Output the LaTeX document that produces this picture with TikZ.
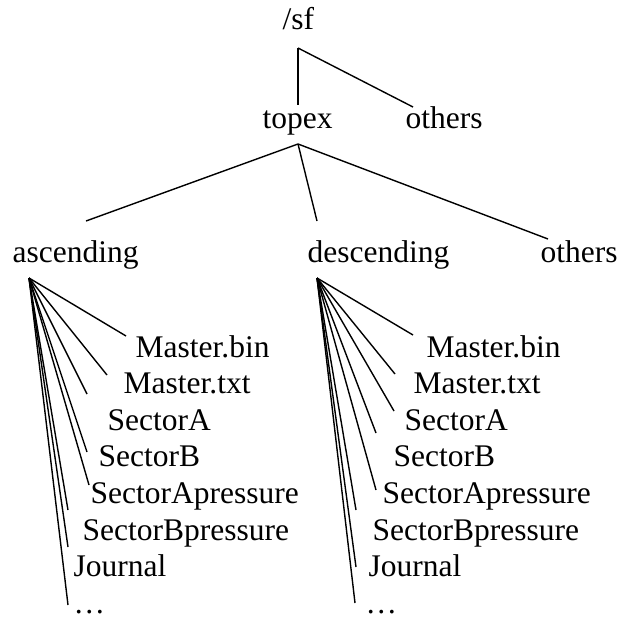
\documentclass[tikz,border=0pt]{standalone}
\usepackage{fontspec}
\setmainfont{Liberation Serif}
\begin{document}
\begin{tikzpicture}[x=1pt,y=-1pt,line width=1.4pt,
    lbl/.style={anchor=base west,inner sep=0pt,font=\fontsize{31.5}{36}\selectfont}]
  \useasboundingbox (0,0) rectangle (618,616);
  \node[lbl] (sf) at (282,29) {/sf};
  \node[lbl] (topex) at (262,128) {topex};
  \node[lbl] (oth1) at (405,128) {others};
  \node[lbl] (asc) at (12,262) {ascending};
  \node[lbl] (desc) at (307,262) {descending};
  \node[lbl] (oth2) at (540,262) {others};
  \draw ([shift={(16,19)}]sf.base west) -- ([shift={(36,-23)}]topex.base west);
  \draw ([shift={(16,19)}]sf.base west) -- ([shift={(8,-21)}]oth1.base west);
  \draw ([shift={(36,16)}]topex.base west) -- ([shift={(74,-41)}]asc.base west);
  \draw ([shift={(36,16)}]topex.base west) -- ([shift={(10,-41)}]desc.base west);
  \draw ([shift={(36,16)}]topex.base west) -- ([shift={(8,-23)}]oth2.base west);
  % files under ascending
  \foreach \nm/\txt/\x/\y/\dx/\dy in {mbin/Master.bin/135/357/-9/-21,
      mtxt/Master.txt/123/393/-16/-18, sa/SectorA/107/430/-20/-36,
      sb/SectorB/98/466/-11/-14, sap/SectorApressure/90/503/-1/-18,
      sbp/SectorBpressure/82/540/-14/-30, jour/Journal/73/576/-5/-29,
      more/\ldots/73/613/-5/-8}{
    \node[lbl] (a\nm) at (\x,\y) {\txt};
    \draw ([shift={(17,16)}]asc.base west) -- ([shift={(\dx,\dy)}]a\nm.base west);
  }
  % files under descending
  \foreach \nm/\txt/\x/\y/\dx/\dy in {mbin/Master.bin/426/357/-13/-22,
      mtxt/Master.txt/413/393/-18/-19, sa/SectorA/404/430/-10/-19,
      sb/SectorB/393/466/-17/-33, sap/SectorApressure/382/503/-6/-13,
      sbp/SectorBpressure/372/540/-16/-30, jour/Journal/368/576/-12/-9,
      more/\ldots/365/613/-10/-10}{
    \node[lbl] (d\nm) at (\x,\y) {\txt};
    \draw ([shift={(10,16)}]desc.base west) -- ([shift={(\dx,\dy)}]d\nm.base west);
  }
\end{tikzpicture}
\end{document}
